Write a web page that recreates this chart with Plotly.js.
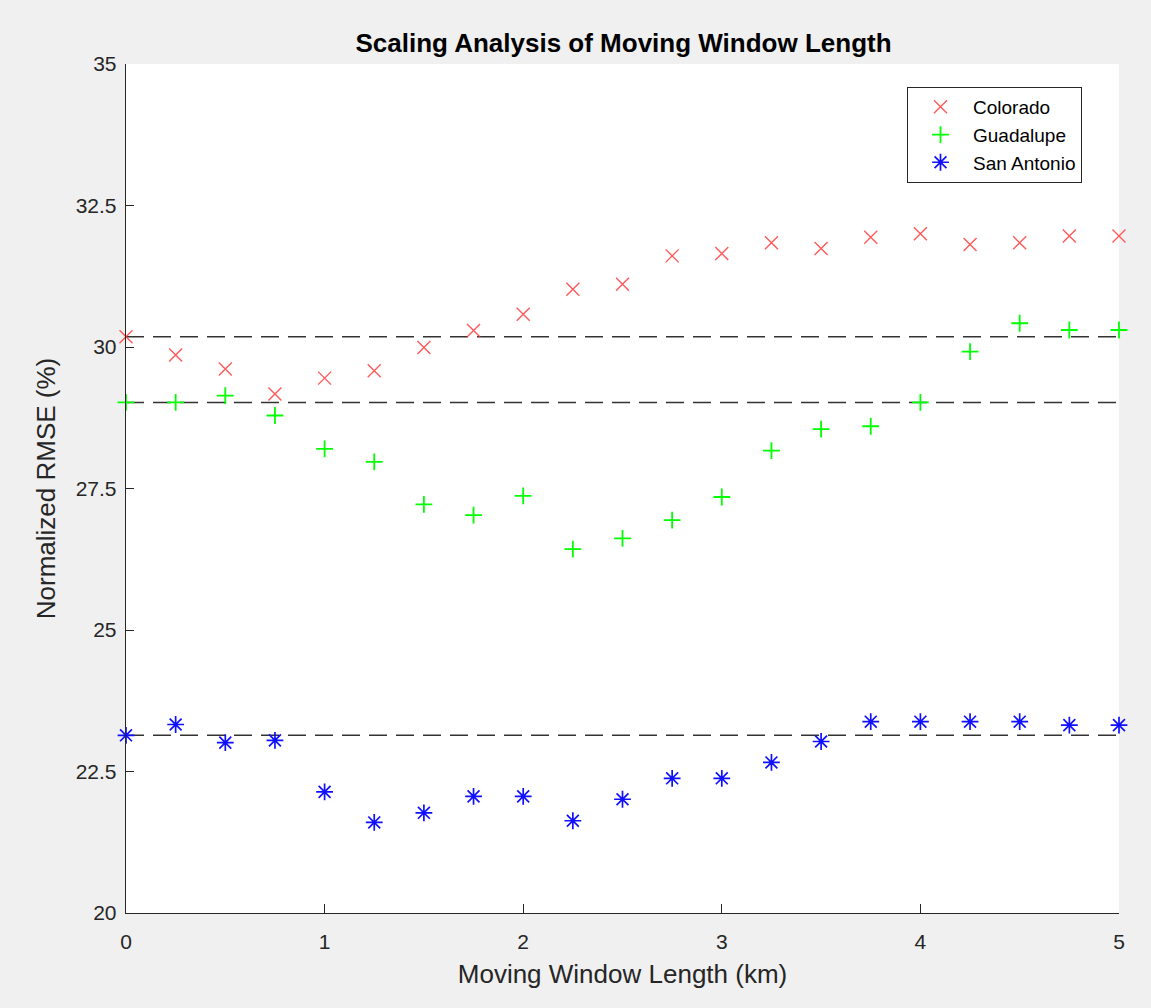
<!DOCTYPE html>
<html>
<head>
<meta charset="utf-8">
<script src="https://cdn.plot.ly/plotly-3.0.1.min.js"></script>
<style>
html,body{margin:0;padding:0;background:#f0f0f0;}
#chart{width:1151px;height:1008px;}
</style>
</head>
<body>
<div id="chart"></div>
<script>
var windowLength = [0,0.25,0.5,0.75,1,1.25,1.5,1.75,2,2.25,2.5,2.75,3,3.25,3.5,3.75,4,4.25,4.5,4.75,5];
var colorado = [30.18,29.86,29.61,29.17,29.45,29.58,29.99,30.29,30.58,31.02,31.11,31.61,31.65,31.84,31.74,31.94,32.00,31.81,31.84,31.96,31.96];
var guadalupe = [29.02,29.02,29.14,28.79,28.20,27.97,27.22,27.03,27.37,26.43,26.62,26.94,27.35,28.17,28.55,28.60,29.02,29.92,30.42,30.30,30.30];
var sanAntonio = [23.14,23.33,23.01,23.05,22.14,21.60,21.77,22.06,22.06,21.63,22.01,22.38,22.38,22.66,23.03,23.38,23.38,23.38,23.38,23.32,23.32];
var seriesNames = ["Colorado","Guadalupe","San Antonio"];
var xTicks = [0,1,2,3,4,5];
var yTicks = [20,22.5,25,27.5,30,32.5,35];
var yTickLabels = ["20","22.5","25","27.5","30","32.5","35"];

function baseline(arr){
  return {
    x:[windowLength[0], windowLength[windowLength.length-1]],
    y:[arr[0], arr[0]],
    mode:'lines', showlegend:false, hoverinfo:'skip',
    line:{color:'#333333', width:1.4, dash:'18px,9px'}
  };
}

var traces = [
  baseline(colorado), baseline(guadalupe), baseline(sanAntonio),
  {x:windowLength, y:colorado, name:seriesNames[0], legendgroup:'a', mode:'markers', cliponaxis:false,
   marker:{symbol:'x-thin-open', size:13, color:'rgba(255,60,60,0.85)', line:{width:1.4, color:'rgba(255,60,60,0.85)'}}},
  {x:windowLength, y:guadalupe, name:seriesNames[1], legendgroup:'b', mode:'markers', cliponaxis:false,
   marker:{symbol:'cross-thin-open', size:12, color:'#00ff00', line:{width:1.8, color:'#00ff00'}}},
  {x:windowLength, y:sanAntonio, name:seriesNames[2], legendgroup:'c', mode:'markers', cliponaxis:false,
   marker:{symbol:'asterisk-open', size:14, color:'#1010ff', line:{width:1.7, color:'#1010ff'}}}
];

var layout = {
  width:1151, height:1008,
  paper_bgcolor:'#f0f0f0', plot_bgcolor:'#ffffff',
  margin:{l:126, r:32, t:64, b:95},
  font:{family:'Liberation Sans, Arial, sans-serif', color:'#262626'},
  title:{text:'<b>Scaling Analysis of Moving Window Length</b>', x:(349+898)/2/1151, xanchor:'center', y:1-43/1008, yanchor:'middle',
         font:{size:26, color:'#000000'}},
  xaxis:{range:[0,5], tickvals:xTicks, ticktext:xTicks.map(String), ticks:'inside', ticklen:9, tickcolor:'#262626',
         showline:true, linecolor:'#262626', linewidth:1.3, showgrid:false, zeroline:false, mirror:false,
         tickfont:{size:21, color:'#262626'}, ticklabelstandoff:9,
         title:{text:'Moving Window Length (km)', font:{size:26, color:'#262626'}, standoff:13}},
  yaxis:{range:[20,35], tickvals:yTicks, ticktext:yTickLabels, ticks:'inside', ticklen:8, tickcolor:'#262626',
         showline:true, linecolor:'#262626', linewidth:1.3, showgrid:false, zeroline:false, mirror:false,
         tickfont:{size:21, color:'#262626'}, ticklabelstandoff:4,
         title:{text:'Normalized RMSE (%)', font:{size:26, color:'#262626'}, standoff:12}},
  legend:{x:(907-126)/993, y:(913-87)/849, xanchor:'left', yanchor:'top', bgcolor:'#ffffff',
          bordercolor:'#262626', borderwidth:1, font:{size:19, color:'#000000'}, traceorder:'grouped',
          tracegroupgap:0, itemwidth:55},
  showlegend:true
};

Plotly.newPlot('chart', traces, layout, {displayModeBar:false, staticPlot:true});
</script>
</body>
</html>
